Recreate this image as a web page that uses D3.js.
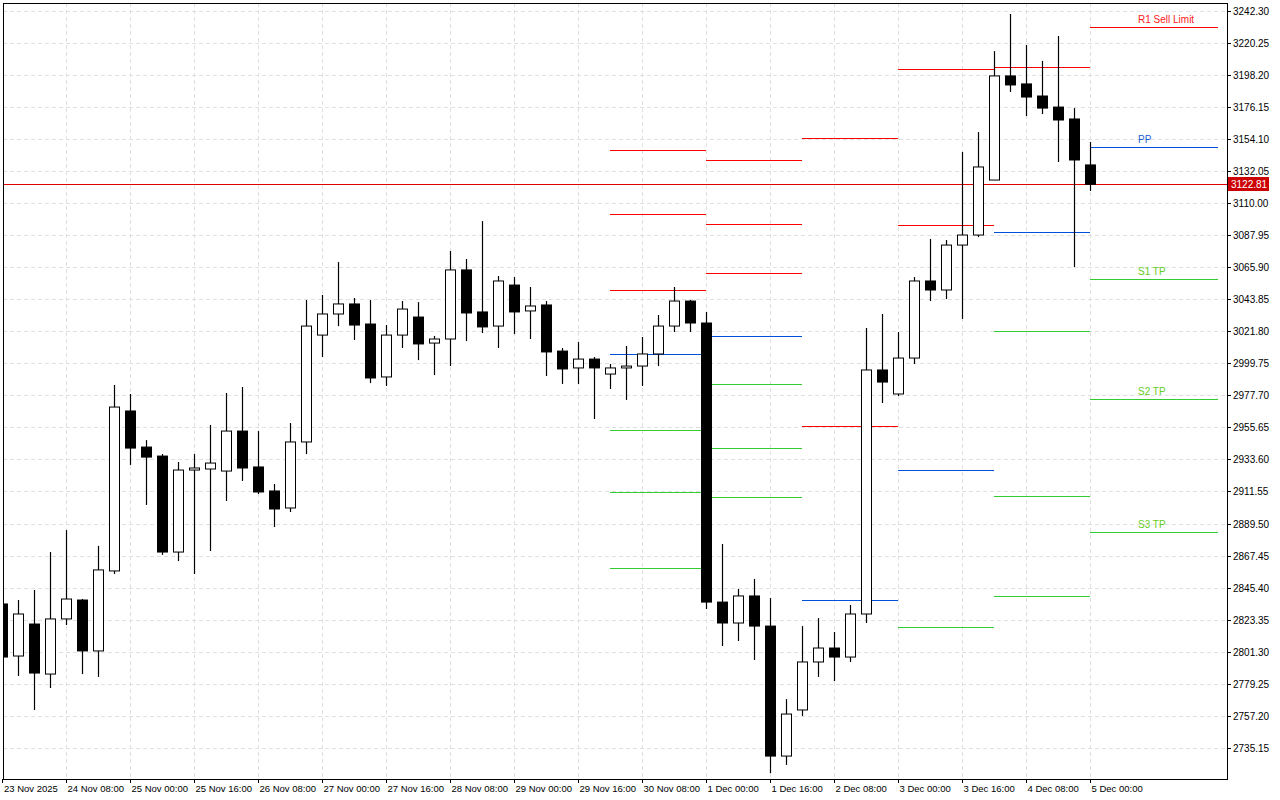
<!DOCTYPE html>
<html><head><meta charset="utf-8">
<script src="https://cdn.jsdelivr.net/npm/d3@7/dist/d3.min.js"></script>
<style>body{margin:0;background:#fff}svg{display:block}text{font-family:"Liberation Sans",Arial,sans-serif}</style>
</head><body><svg id="c" width="1280" height="800"></svg>
<script>
const opens=[2834.2,2798.4,2820.4,2786.0,2823.9,2836.9,2801.9,2856.9,2966.9,2942.1,2935.9,2869.9,2926.3,2927.0,2925.6,2953.1,2928.4,2911.9,2900.2,2945.6,3019.1,3033.6,3040.5,3026.7,2990.3,3019.1,3031.5,3013.6,3016.4,3063.9,3035.0,3025.3,3053.5,3035.7,3039.8,3008.1,2996.5,3002.6,2992.3,2996.5,2997.8,3006.1,3025.3,3042.5,3027.4,2835.5,2821.1,2839.7,2819.0,2729.6,2761.3,2794.3,2803.9,2797.7,2827.3,2995.1,2978.6,3003.3,3056.3,3050.1,3081.0,3087.9,3125.7,3197.3,3191.8,3183.5,3175.9,3167.7,3136.1];
const highs=[2839.7,2836.9,2843.8,2869.9,2885.0,2837.6,2874.1,2984.8,2978.6,2946.9,2937.3,2931.8,2937.3,2957.3,2979.3,2983.4,2953.1,2916.7,2958.6,3043.2,3046.7,3069.3,3044.6,3043.2,3026.0,3042.5,3041.8,3018.5,3076.9,3071.4,3097.5,3059.7,3059.0,3052.2,3042.5,3010.2,3014.3,3004.0,2999.2,3011.6,3017.8,3032.9,3052.2,3043.2,3035.0,2875.4,2844.5,2851.4,2838.3,2768.8,2819.0,2824.5,2814.9,2833.5,3024.0,3033.6,3021.2,3059.0,3085.2,3084.5,3145.0,3158.7,3214.4,3239.9,3218.6,3207.6,3224.8,3175.2,3151.9];
const lows=[2792.2,2784.7,2761.3,2776.4,2819.7,2786.0,2784.0,2854.8,2929.8,2902.3,2867.9,2863.7,2854.8,2870.6,2905.0,2918.8,2909.8,2887.1,2897.4,2937.3,3004.0,3025.3,3015.7,2986.1,2984.1,3010.2,3001.9,2991.6,2997.8,3015.0,3020.5,3010.2,3019.8,3016.4,2991.0,2985.5,2985.5,2961.4,2982.0,2974.5,2984.1,2997.8,3021.2,3021.2,2830.7,2805.3,2808.7,2795.7,2717.9,2723.5,2757.2,2784.0,2781.2,2794.3,2821.1,2972.4,2977.2,2999.2,3042.5,3043.9,3030.2,3086.5,3125.7,3186.3,3169.7,3171.1,3138.1,3065.9,3118.2];
const closes=[2797.7,2827.3,2786.7,2823.9,2837.6,2801.9,2857.6,2969.6,2941.4,2935.2,2869.9,2926.3,2927.7,2931.1,2953.1,2927.7,2911.2,2899.5,2945.6,3025.3,3033.6,3040.5,3026.0,2989.6,3019.1,3037.0,3013.0,3016.4,3063.9,3034.3,3024.7,3056.3,3035.0,3039.1,3007.5,2995.8,3002.6,2996.5,2996.5,2997.8,3006.1,3025.3,3042.5,3027.4,2835.5,2821.1,2839.7,2819.0,2729.6,2758.5,2794.3,2803.9,2797.7,2827.3,2995.1,2986.8,3003.3,3056.3,3050.1,3081.0,3087.9,3134.7,3197.3,3191.1,3182.8,3175.2,3167.0,3139.5,3122.81];
const timeLabels=["23 Nov 2025","24 Nov 08:00","25 Nov 00:00","25 Nov 16:00","26 Nov 08:00","27 Nov 00:00","27 Nov 16:00","28 Nov 08:00","29 Nov 00:00","29 Nov 16:00","30 Nov 08:00","1 Dec 00:00","1 Dec 16:00","2 Dec 08:00","3 Dec 00:00","3 Dec 16:00","4 Dec 08:00","5 Dec 00:00"];
const priceTicks=d3.range(0,24).map(k=>+(2735.15+22.05*k).toFixed(2));
const pivotStart=[38,44,50,56,62,68];
const pivotEnd=[44,50,56,62,68,76];
const pivotR=[[3146.37,3102.36,3050.10],[3139.49,3095.48,3061.79],[3154.62,2956.57],[3202.07,3094.80],[3203.45],[3230.95]];
const pivotPP=[3006.09,3018.46,2836.92,2926.32,3089.98,3148.43];
const pivotS=[[2953.83,2911.19,2858.93],[2985.46,2941.45,2907.75],[],[2818.36],[3021.90,2908.44,2839.67],[3057.66,2975.14,2883.68]];
const lastLabels=[["R1 Sell Limit",3230.95,"#ff2020"],["PP",3148.43,"#1a5fd0"],["S1 TP",3057.66,"#66cc22"],["S2 TP",2975.14,"#66cc22"],["S3 TP",2883.68,"#66cc22"]];
const lastPrice=3122.81;

const svg=d3.select("#c");
const L=3,R=1227,T=3,B=779;
const y=d3.scaleLinear().domain([2735.15,3242.30]).range([748,10.5]);
const x=d3.scaleLinear().domain([0,1]).range([2,18]);
const g=svg.append("g");
svg.append("clipPath").attr("id","pc").append("rect").attr("x",L).attr("y",T).attr("width",R-L).attr("height",B-T);
const grid=g.append("g").attr("stroke","#e0e0e0").attr("stroke-dasharray","4,3");
timeLabels.forEach((t,k)=>{if(k>0)grid.append("line").attr("x1",x(k*4)+.5).attr("x2",x(k*4)+.5).attr("y1",T).attr("y2",B);});
priceTicks.forEach(p=>grid.append("line").attr("x1",L).attr("x2",R).attr("y1",Math.round(y(p))+.5).attr("y2",Math.round(y(p))+.5));
const pc=svg.append("g").attr("clip-path","url(#pc)");
const col={R:"#ff0000",P:"#0050d8",S:"#33cc33"};
pivotStart.forEach((s,d)=>{
  const seg=(v,c)=>pc.append("line").attr("x1",x(s)).attr("x2",x(pivotEnd[d])).attr("y1",Math.round(y(v))+.5).attr("y2",Math.round(y(v))+.5).attr("stroke",c).attr("stroke-width",1.2);
  pivotR[d].forEach(v=>seg(v,col.R));
  seg(pivotPP[d],col.P);
  pivotS[d].forEach(v=>seg(v,col.S));
});
lastLabels.forEach(([t,v,c])=>pc.append("text").attr("x",x(71)).attr("y",y(v)-4).attr("fill",c).attr("font-size",10).text(t));
pc.append("line").attr("x1",L).attr("x2",R).attr("y1",Math.round(y(lastPrice))+.5).attr("y2",Math.round(y(lastPrice))+.5).attr("stroke","#e00000");
const cg=pc.append("g");
opens.forEach((o,i)=>{
  const c=closes[i],cx=Math.round(x(i))+.5;
  cg.append("line").attr("x1",cx).attr("x2",cx).attr("y1",y(highs[i])).attr("y2",y(lows[i])).attr("stroke","#000").attr("stroke-width",1.2);
  const top=y(Math.max(o,c)),bot=y(Math.min(o,c));
  cg.append("rect").attr("x",cx-5).attr("y",top).attr("width",10).attr("height",Math.max(1,bot-top))
    .attr("fill",c>=o?"#fff":"#000").attr("stroke","#000").attr("stroke-width",1);
});
svg.append("rect").attr("x",L+.5).attr("y",T+.5).attr("width",R-L).attr("height",B-T).attr("fill","none").attr("stroke","#000");
priceTicks.forEach(p=>{const yy=Math.round(y(p))+.5;
  svg.append("line").attr("x1",R).attr("x2",R+4).attr("y1",yy).attr("y2",yy).attr("stroke","#000");
  svg.append("text").attr("x",R+6).attr("y",yy+3.5).attr("font-size",10).attr("fill","#000").text(p.toFixed(2));});
const ly=Math.round(y(lastPrice));
svg.append("rect").attr("x",R+1).attr("y",ly-7).attr("width",41).attr("height",14).attr("fill","#cc0000");
svg.append("text").attr("x",R+4).attr("y",ly+4).attr("font-size",10).attr("fill","#fff").text(lastPrice.toFixed(2));
timeLabels.forEach((t,k)=>{const xx=Math.round(x(k*4))+.5;
  svg.append("line").attr("x1",xx).attr("x2",xx).attr("y1",B).attr("y2",B+4).attr("stroke","#000");
  svg.append("text").attr("x",Math.max(xx+1,4)).attr("y",B+13).attr("font-size",9.5).attr("fill","#000").text(t);});
</script></body></html>
